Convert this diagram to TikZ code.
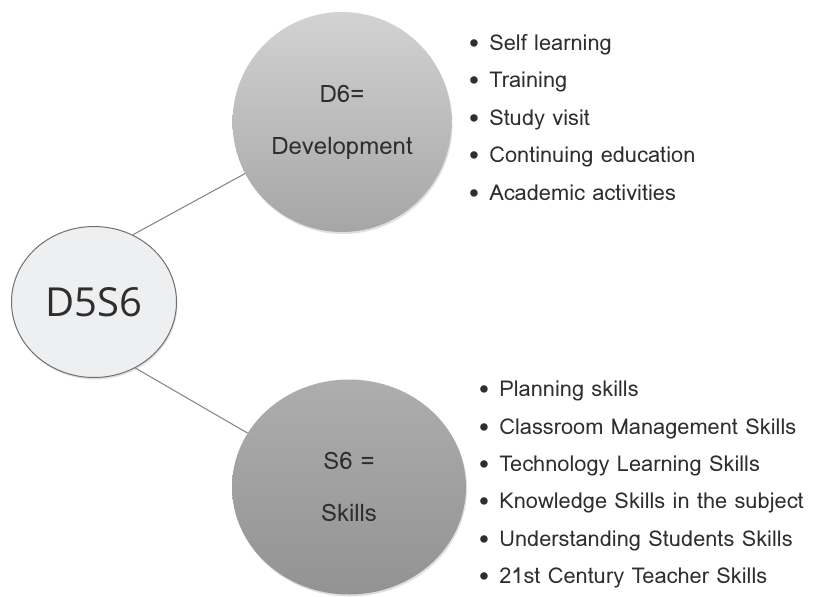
\documentclass[tikz,border=0pt]{standalone}
\usepackage{fontspec}
\setmainfont{Loma}
\newfontfamily\hubfont{Open Sans}
\usetikzlibrary{positioning,shapes.geometric,shadows}
\definecolor{ink}{HTML}{2E2E2E}
\definecolor{rimgray}{HTML}{707070}
\definecolor{hubfill}{HTML}{EEEFF1}
\definecolor{linkgray}{HTML}{8A8A8A}
\newcommand*{\fs}[2]{\fontsize{#1}{#2}\selectfont}

\tikzset{
  hub/.style={ellipse,draw=rimgray,line width=1pt,fill=hubfill,
    minimum width=165pt,minimum height=151pt,inner sep=0pt,
    text=ink,font=\hubfont\fs{40}{48},
    drop shadow={shadow xshift=1pt,shadow yshift=-2pt,opacity=.25}},
  topic/.style={ellipse,draw=none,inner sep=0pt,align=center,
    text=ink,font=\fs{24}{52},
    drop shadow={shadow xshift=1pt,shadow yshift=-2pt,opacity=.25}},
  link/.style={draw=linkgray,line width=1.1pt},
  item/.style={anchor=mid west,inner sep=0pt,text=ink,font=\fs{21.8}{26}}
}

\begin{document}
\begin{tikzpicture}[x=1pt,y=-1pt]
\useasboundingbox (0,0) rectangle (823,597);
% The three circles
\node[hub] (hub) at (94,302) {D5S6};
\node[topic,top color=gray!35!white,bottom color=gray!70!white,
  minimum width=219pt,minimum height=220pt] (devel) at (342,122)
  {D6=\\Development};
\node[topic,top color=gray!64!white,bottom color=gray!85!white,
  minimum width=234pt,minimum height=215pt] (skills) at (349,487)
  {S6 =\\Skills};
% Connectors
\draw[link] (hub.60) -- (devel.208);
\draw[link] (hub.-58) -- (skills.152);
% Development list
\foreach \txt [count=\k] in {Self learning,Training,Study visit,
    Continuing education,Academic activities}
  \node[item] (dev\k) at (469,10+37.5*\k) {\textbullet\hspace{10pt}\txt};
% Skills list
\foreach \txt [count=\k] in {Planning skills,Classroom Management Skills,
    Technology Learning Skills,Knowledge Skills in the subject,
    Understanding Students Skills,21st Century Teacher Skills}
  \node[item] (skl\k) at (479,357+37.3*\k) {\textbullet\hspace{10pt}\txt};
\end{tikzpicture}
\end{document}
